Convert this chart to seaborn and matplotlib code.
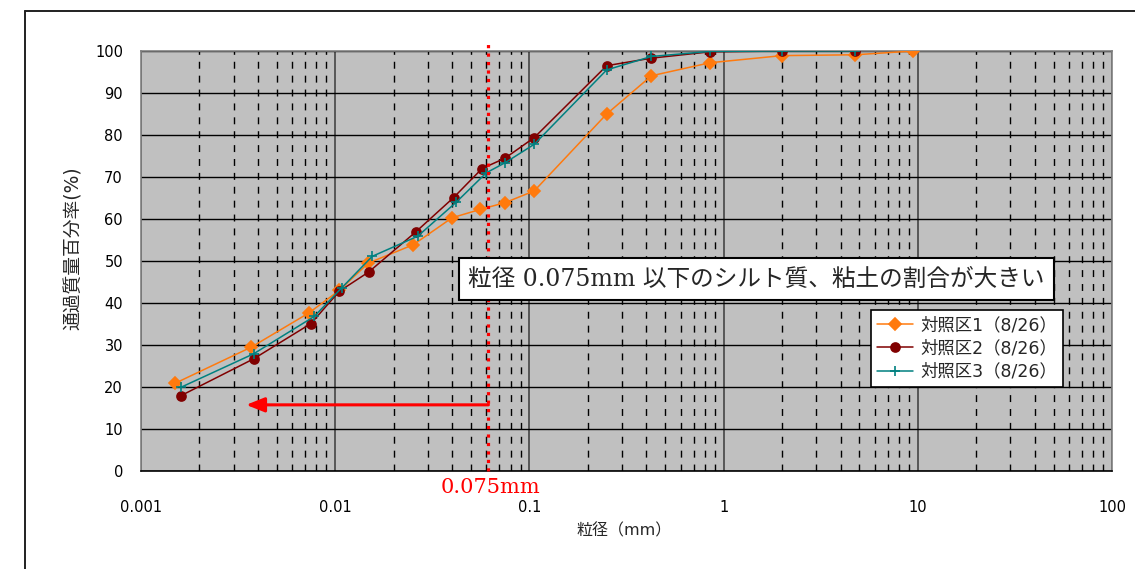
import matplotlib
matplotlib.use('Agg')
import matplotlib.pyplot as plt
import matplotlib.ticker as mticker
import matplotlib.transforms as mtransforms
from matplotlib.lines import Line2D
import seaborn as sns
import pandas as pd

sns.set_theme(style="white")
plt.rcParams['font.family'] = ['DejaVu Sans', 'Noto Sans CJK JP']

# grain size (mm) and percent passing for each control plot
size1 = [9.5, 4.75, 2.0, 0.85, 0.425, 0.25, 0.106, 0.075, 0.056, 0.040, 0.0253, 0.0148, 0.0105, 0.0073, 0.0037, 0.0015]
pass1 = [100, 99.1, 98.9, 97.2, 94.1, 85.0, 66.7, 63.9, 62.3, 60.3, 53.9, 49.5, 43.0, 37.6, 29.5, 20.9]

size2 = [4.75, 2.0, 0.85, 0.425, 0.25, 0.106, 0.075, 0.057, 0.0407, 0.0261, 0.0149, 0.0105, 0.0075, 0.0038, 0.0016]
pass2 = [100, 100, 99.8, 98.3, 96.5, 79.4, 74.5, 72.0, 65.1, 57.0, 47.4, 42.8, 35.1, 26.7, 17.9]

size3 = [4.75, 2.0, 0.85, 0.425, 0.25, 0.106, 0.075, 0.060, 0.042, 0.0266, 0.0155, 0.0108, 0.0078, 0.0038, 0.0016]
pass3 = [100, 100, 99.9, 98.7, 95.5, 77.8, 73.4, 71.0, 64.0, 55.9, 51.1, 43.6, 36.8, 27.9, 19.9]

labels = ['対照区1（8/26）', '対照区2（8/26）', '対照区3（8/26）']
colors = ['#FF7A0E', '#800000', '#008080']
markers = ['D', 'o', '+']

x_ticks = [0.001, 0.01, 0.1, 1, 10, 100]
x_ticklabels = ['0.001', '0.01', '0.1', '1', '10', '100']
y_ticks = list(range(0, 101, 10))

LINE_X = 0.0615      # where the 0.075mm marker was drawn
ARROW_TIP = 0.00348
ARROW_Y = 15.75

fig = plt.figure(figsize=(11.35, 5.69), dpi=100)
ax = fig.add_axes([141 / 1135, 1 - 471 / 569, 971 / 1135, 420 / 569])
ax.set_facecolor('#C0C0C0')

for xs, ys, lab, c, m in zip([size1, size2, size3], [pass1, pass2, pass3], labels, colors, markers):
    df = pd.DataFrame({'size': xs, 'pass': ys})
    ms = 6 if m == 'D' else (6.5 if m == 'o' else 7.5)
    sns.lineplot(data=df, x='size', y='pass', ax=ax, sort=False, color=c, lw=1.1,
                 marker=m, markersize=ms, markeredgecolor=c, markerfacecolor=c,
                 markeredgewidth=1.2, label=lab, zorder=3)

ax.set_xscale('log')
ax.set_xlim(0.001, 100)
ax.set_ylim(0, 100)
ax.xaxis.set_major_locator(mticker.FixedLocator(x_ticks))
ax.set_xticklabels(x_ticklabels)
ax.xaxis.set_minor_locator(mticker.LogLocator(base=10, subs=range(2, 10), numticks=20))
ax.xaxis.set_minor_formatter(mticker.NullFormatter())
ax.set_yticks(y_ticks)
ax.tick_params(axis='both', which='both', length=0, labelsize=10.5, colors='black')
ax.tick_params(axis='y', pad=13)
ax.tick_params(axis='x', pad=21)
ax.set_xlabel('')
ax.set_ylabel('')

ax.grid(which='major', axis='y', color='black', lw=1, ls='-')
ax.grid(which='major', axis='x', color='#3a3a3a', lw=1.1, ls='-')
ax.grid(which='minor', axis='x', color='black', lw=1, ls=(0, (5, 5)))
ax.set_axisbelow(True)

for side in ['top', 'right', 'left']:
    ax.spines[side].set_color('#808080')
    ax.spines[side].set_linewidth(1.2)
ax.spines['bottom'].set_color('black')
ax.spines['bottom'].set_linewidth(1.2)

# 0.075mm marker line and arrow
ax.axvline(LINE_X, ymin=0, ymax=(471 - 42) / 420, color='red', lw=2.3, ls=':', clip_on=False, zorder=4)
ax.annotate('', xy=(ARROW_TIP, ARROW_Y), xytext=(LINE_X, ARROW_Y),
            arrowprops=dict(arrowstyle='-|>,head_length=0.55,head_width=0.22', color='red',
                            lw=2.2, mutation_scale=20, shrinkA=0, shrinkB=0), zorder=4)
trans = mtransforms.blended_transform_factory(ax.transData, ax.transAxes)
ax.text(LINE_X * 1.03, -0.04, '0.075mm', transform=trans, ha='center', va='center',
        color='red', fontsize=15, family=['DejaVu Serif', 'Noto Sans CJK JP'])

ax.text(0.634, 0.457, '粒径 0.075mm 以下のシルト質、粘土の割合が大きい', transform=ax.transAxes,
        ha='center', va='center', fontsize=17, family=['DejaVu Serif', 'Noto Sans CJK JP'],
        zorder=6,
        bbox=dict(boxstyle='square,pad=0.4', facecolor='white', edgecolor='black', lw=1.5))

leg = ax.legend(loc='upper right', bbox_to_anchor=(0.9495, 0.383), fontsize=12.5, frameon=True,
                fancybox=False, framealpha=1, edgecolor='black', borderpad=0.35,
                labelspacing=0.3, handlelength=2.1, handletextpad=0.4, borderaxespad=0)
leg.get_frame().set_linewidth(1.2)
leg.set_zorder(7)

fig.text(624 / 1135, 1 - 531 / 569, '粒径（mm）', ha='center', va='center', fontsize=11.5)
fig.text(73 / 1135, 1 - 248 / 569, '通過質量百分率(%)', ha='center', va='center',
         rotation=90, fontsize=13.5)

# outer chart frame
fig.add_artist(Line2D([25 / 1135, 25 / 1135], [0, 1 - 11 / 569], transform=fig.transFigure, color='#202020', lw=1.4))
fig.add_artist(Line2D([25 / 1135, 1], [1 - 11 / 569, 1 - 11 / 569], transform=fig.transFigure, color='#202020', lw=1.4))

fig.savefig('out.png', dpi=100)
